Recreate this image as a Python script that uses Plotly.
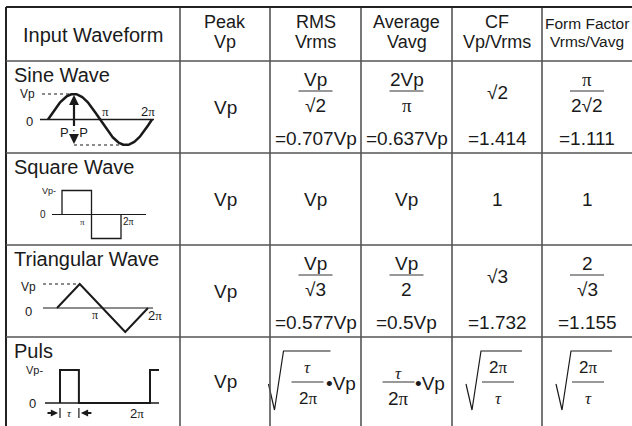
import numpy as np
import plotly.graph_objects as go

# ---------------- data ----------------
headers = [["Input Waveform"], ["Peak", "Vp"], ["RMS", "Vrms"], ["Average", "Vavg"],
           ["CF", "Vp/Vrms"], ["Form Factor", "Vrms/Vavg"]]
waveforms = ["Sine Wave", "Square Wave", "Triangular Wave", "Puls"]
peak = ["Vp", "Vp", "Vp", "Vp"]

PI = '<span style="font-family:Liberation Serif">π</span>'
TAU = '<span style="font-family:Liberation Serif"><i>τ</i></span>'

# each cell: ("frac", numerator, denominator, result) / ("text", value) /
#            ("root", numerator, denominator, suffix) / ("fracs", numerator, denominator, suffix)
rms = [("frac", "Vp", "√2", "=0.707Vp"), ("text", "Vp"),
       ("frac", "Vp", "√3", "=0.577Vp"), ("root", TAU, "2" + PI, "•Vp")]
avg = [("frac", "2Vp", PI, "=0.637Vp"), ("text", "Vp"),
       ("frac", "Vp", "2", "=0.5Vp"), ("fracs", TAU, "2" + PI, "•Vp")]
cf = [("val", "√2", "=1.414"), ("text", "1"),
      ("val", "√3", "=1.732"), ("root", "2" + PI, TAU, "")]
ff = [("frac", PI, "2√2", "=1.111"), ("text", "1"),
      ("frac", "2", "√3", "=1.155"), ("root", "2" + PI, TAU, "")]

# waveform key points: phase (units of π) and level (units of Vp)
square_phase = [0, 0, 1, 1, 2, 2]
square_level = [0, 1, 1, -1, -1, 0]
tri_phase = [0, 0.5, 1.5, 2]
tri_level = [0, 1, -1, 0]
puls_phase = [0, 0, 0.42, 0.42, 2, 2, 2.2]
puls_level = [0, 1, 1, 0, 0, 1, 1]

# ---------------- layout geometry ----------------
W, H = 632, 426
col_x = [6, 180, 270, 361, 452, 542]
row_y = [7, 61, 153, 245, 337]
col_c = [93, 225, 315.5, 406.5, 497, 587]
INK = "#1a1a1a"
SANS = "Liberation Sans, Arial, sans-serif"

fig = go.Figure()
ann = []
shapes = []


def text(x, y, s, size=19, family=SANS, xanchor="center"):
    ann.append(dict(x=x, y=y, text=s, showarrow=False, xanchor=xanchor, yanchor="middle",
                    borderpad=0, font=dict(size=size, family=family, color=INK)))


def line(x0, y0, x1, y1, color=INK, width=1.2, dash=None):
    d = dict(type="line", x0=x0, y0=y0, x1=x1, y1=y1, xref="x", yref="y",
             line=dict(color=color, width=width))
    if dash:
        d["line"]["dash"] = dash
    shapes.append(d)


def trace(xs, ys, width=2, color=INK):
    fig.add_trace(go.Scatter(x=xs, y=ys, mode="lines", hoverinfo="skip",
                             line=dict(color=color, width=width), showlegend=False))


def arrow(xh, yh, xt, yt, width=2, size=0.9):
    ann.append(dict(x=xh, y=yh, ax=xt, ay=yt, xref="x", yref="y", axref="x", ayref="y",
                    text="", showarrow=True, arrowhead=2, arrowsize=size,
                    arrowwidth=width, arrowcolor=INK))


# ---------------- grid ----------------
for i, x in enumerate(col_x):
    line(x, row_y[0], x, H + 2, color="#222" if i == 0 else "#555", width=2 if i == 0 else 1.6)
for i, y in enumerate(row_y):
    line(col_x[0], y, W + 2, y, color="#222" if i == 0 else "#555", width=2 if i == 0 else 1.6)

# ---------------- header ----------------
text(col_c[0], 35, headers[0][0], size=20)
for j in range(1, 5):
    text(col_c[j], 22, headers[j][0], size=18)
    text(col_c[j], 42.3, headers[j][1], size=18)
text(col_c[5], 23, headers[5][0], size=15.5)
text(col_c[5], 41.5, headers[5][1], size=15.5)

# ---------------- body ----------------
for r in range(4):
    top = row_y[r + 1]
    text(13, top + 14, waveforms[r], size=20, xanchor="left")
    mid = top + 46 if r < 3 else 381
    text(col_c[1], mid, peak[r])
    for j, cells in zip([2, 3, 4, 5], [rms, avg, cf, ff]):
        c = cells[r]
        cx = col_c[j]
        if c[0] == "text":
            text(cx, mid, c[1])
        elif c[0] == "frac":
            text(cx, top + 18, c[1])
            line(cx - 17, top + 30, cx + 17, top + 30, color="#333", width=1)
            text(cx, top + 44, c[2])
            text(cx, top + 77, c[3])
        elif c[0] == "val":
            text(cx, top + 31, c[1])
            text(cx, top + 77, c[2])
        elif c[0] == "fracs":
            fx = cx - 8
            text(fx, top + 36, c[1], size=17)
            line(fx - 16, top + 45, fx + 16, top + 45, color="#333", width=1)
            text(fx, top + 61, c[2])
            text(fx + 31, top + 46, c[3])
        elif c[0] == "root":
            if c[3]:
                fx = cx - 8
                hx = cx - 47
                ex = cx + 15
            else:
                fx = cx + 1
                hx = cx - 31
                ex = cx + 25
            trace([hx, hx + 6, hx + 15, ex], [top + 47, top + 73, top + 14, top + 14], width=1.2)
            text(fx, top + 30, c[1], size=17)
            line(fx - 16, top + 45, fx + 16, top + 45, color="#333", width=1)
            text(fx, top + 61, c[2], size=17)
            if c[3]:
                text(fx + 33, top + 46, c[3])

# ---------------- waveform diagrams ----------------
# sine
x0, sx, ya, sa = 48, 52, 119.5, 25.5
line(40, ya, 154, ya, width=1.3)
ph = np.linspace(0, 2, 121)
trace(x0 + sx * ph, ya - sa * np.sin(np.pi * ph), width=2.5)
line(42, ya - sa, x0 + sx * 0.5, ya - sa, dash="3px,3px", width=1.1)
line(x0 + sx * 0.5, ya + sa, x0 + sx * 1.5, ya + sa, dash="3px,3px", width=1.1)
text(27, ya - sa, "Vp", size=12)
text(29, ya + 2, "0", size=13)
text(x0 + sx * 1.1, ya - 8, PI, size=13)
text(x0 + sx * 1.93, ya - 8, "2" + PI, size=13)
arrow(x0 + sx * 0.5, ya - sa + 1, x0 + sx * 0.5, ya + 8, width=2.2, size=0.9)
arrow(x0 + sx * 0.5, ya + sa - 1, x0 + sx * 0.5, ya + 14, width=2.2, size=0.9)
text(x0 + sx * 0.5, ya + 12.5, "P : P", size=13)

# square
x0, sx, ya, sa = 62, 29.5, 214.5, 24
line(52, ya, 146, ya, width=1.2)
trace([x0 + sx * p for p in square_phase], [ya - sa * v for v in square_level], width=1.3)
text(49, ya - sa, "Vp-", size=9)
text(43, ya, "0", size=10)
text(x0 + sx * 0.7, ya + 7, PI, size=9)
text(x0 + sx * 2.25, ya + 7, "2" + PI, size=10)

# triangle
x0, sx, ya, sa = 57, 45.5, 308, 24
line(43, ya, 153, ya, width=1.2)
trace([x0 + sx * p for p in tri_phase], [ya - sa * v for v in tri_level], width=2)
line(43, ya - sa, x0 + sx * 0.45, ya - sa, dash="3px,3px", width=1.1)
text(28, ya - sa + 3, "Vp", size=12)
text(28, ya + 3, "0", size=13)
text(x0 + sx * 0.84, ya + 7, PI, size=12)
text(x0 + sx * 2.15, ya + 7, "2" + PI, size=13)

# pulse
x0, sx, ya, sa = 60, 45, 403, 33
line(45, ya, 159, ya, width=1.5)
trace([x0 + sx * p for p in puls_phase], [ya - sa * v for v in puls_level], width=2)
text(34, ya - sa, "Vp-", size=11)
text(32, ya, "0", size=13)
text(x0 + sx * 1.7, ya + 10, "2" + PI, size=13)
text(x0 + sx * 0.21, ya + 10, TAU, size=11)
line(x0, ya + 5, x0, ya + 15, width=1.2)
line(x0 + sx * 0.42, ya + 5, x0 + sx * 0.42, ya + 15, width=1.2)
arrow(x0 - 2, ya + 10, x0 - 14, ya + 10, width=1.8, size=0.8)
arrow(x0 + sx * 0.42 + 2, ya + 10, x0 + sx * 0.42 + 14, ya + 10, width=1.8, size=0.8)

fig.update_layout(
    width=W, height=H, autosize=False,
    margin=dict(l=0, r=0, t=0, b=0),
    paper_bgcolor="white", plot_bgcolor="white",
    xaxis=dict(range=[0, W], visible=False, fixedrange=True),
    yaxis=dict(range=[H, 0], visible=False, fixedrange=True),
    shapes=shapes, annotations=ann, showlegend=False,
)
fig.write_html("out.html", config={"displayModeBar": False},
               post_script="document.body.style.margin='0';document.body.style.overflow='hidden';")
